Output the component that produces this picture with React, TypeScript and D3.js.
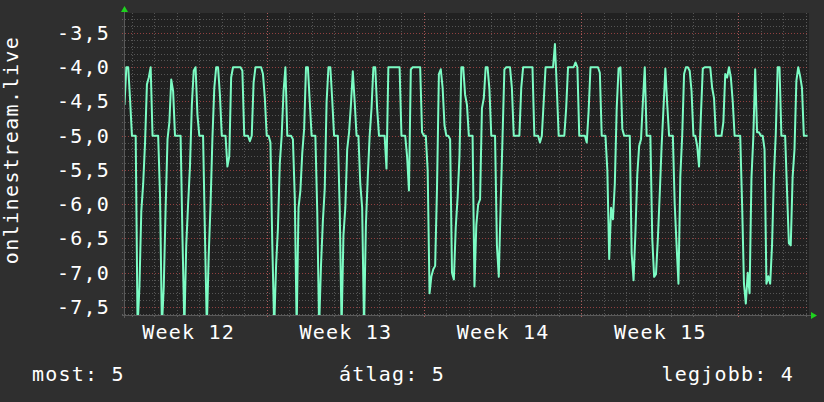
import React from 'react';
import * as d3 from 'd3';

// 2-hourly samples, first one Mon 2024-03-18 16:00 UTC
const firstSample = Date.UTC(2024, 2, 18, 16);
const stepHours = 2;

const week12 = [
  -4.55, -4.0, -4.0, -4.47,
  -5.0, -5.0, -5.0, -7.8, -7.2, -6.1, -5.7, -5.1, -4.25, -4.15, -4.0, -5.0,
  -5.0, -5.0, -5.0, -5.87, -7.8, -7.2, -6.05, -5.05, -4.8, -4.18, -4.35, -5.0,
  -5.0, -5.0, -5.0, -6.5, -7.8, -6.6, -6.0, -5.45, -4.55, -4.05, -4.0, -4.7,
  -5.0, -5.0, -5.0, -6.45, -7.8, -6.75, -6.0, -5.03, -4.3, -4.0, -4.0, -4.4,
  -5.0, -5.0, -5.0, -5.45, -5.3, -4.15, -4.0, -4.0, -4.0, -4.0, -4.0, -4.05,
  -5.0, -5.0, -5.0, -5.08, -5.0, -4.22, -4.0, -4.0, -4.0, -4.0, -4.1, -4.45,
];

const week13 = [
  -5.0, -5.0, -5.1, -6.6, -7.8, -6.9, -6.35, -5.4, -5.0, -4.35, -4.0, -5.0,
  -5.0, -5.0, -5.05, -5.9, -7.8, -6.05, -5.8, -5.25, -4.9, -4.0, -4.0, -4.5,
  -5.0, -5.0, -5.0, -6.1, -7.8, -6.9, -6.25, -5.78, -4.5, -4.0, -4.0, -4.47,
  -5.0, -5.0, -5.0, -6.05, -7.8, -6.45, -6.05, -5.2, -4.95, -4.55, -4.06, -4.5,
  -5.0, -5.0, -5.7, -6.05, -7.8, -6.3, -5.6, -5.0, -4.6, -4.0, -4.0, -4.6,
  -5.0, -5.0, -5.0, -5.0, -5.48, -4.0, -4.0, -4.0, -4.0, -4.0, -4.0, -4.0,
  -5.0, -5.0, -5.0, -5.3, -5.8, -4.03, -4.0, -4.0, -4.0, -4.0, -4.0, -4.95,
];

const week14 = [
  -5.0, -5.0, -5.5, -7.3, -7.05, -6.95, -6.9, -5.75, -4.1, -4.03, -4.3, -4.85,
  -5.0, -5.0, -5.05, -7.0, -7.1, -6.34, -5.9, -5.3, -4.0, -4.0, -4.4, -4.55,
  -5.0, -5.0, -5.0, -7.2, -6.3, -6.0, -5.93, -4.6, -4.45, -4.0, -4.0, -4.32,
  -5.0, -5.0, -5.0, -6.6, -7.06, -6.0, -5.02, -4.03, -4.0, -4.0, -4.0, -4.3,
  -5.0, -5.0, -5.0, -5.0, -4.3, -4.0, -4.0, -4.0, -4.0, -4.0, -4.0, -5.0,
  -5.0, -5.0, -5.1, -5.0, -4.5, -4.0, -4.0, -4.0, -4.0, -4.0, -3.66, -4.3,
  -5.0, -5.0, -5.0, -5.0, -4.6, -4.0, -4.0, -4.0, -4.0, -3.93, -4.0, -5.0,
];

const week15 = [
  -5.0, -5.0, -5.0, -5.1, -4.64, -4.0, -4.0, -4.0, -4.0, -4.0, -4.08, -5.0,
  -5.0, -5.0, -5.5, -6.8, -6.05, -6.22, -5.7, -4.6, -4.02, -4.0, -4.9, -5.0,
  -5.0, -5.0, -5.0, -6.72, -7.11, -6.42, -5.57, -5.15, -5.05, -4.5, -4.0, -5.0,
  -5.0, -5.0, -6.5, -7.06, -7.02, -6.5, -5.85, -5.15, -4.6, -4.02, -4.54, -5.0,
  -5.0, -5.0, -6.0, -6.6, -7.16, -5.59, -5.0, -4.1, -4.0, -4.0, -4.05, -4.35,
  -5.0, -5.0, -5.15, -5.45, -4.7, -4.02, -4.0, -4.0, -4.0, -4.0, -4.3, -4.45,
  -5.0, -5.0, -5.0, -5.0, -4.8, -4.1, -4.15, -4.0, -4.15, -4.5, -5.0, -5.0,
];

const week16 = [
  -5.0, -5.0, -6.0, -7.16, -7.45, -7.0, -7.3, -5.62, -5.02, -4.03, -4.95, -4.95,
  -5.0, -5.0, -5.2, -7.16, -7.05, -7.16, -6.6, -5.59, -4.97, -4.0, -4.0, -5.0,
  -5.0, -5.0, -5.8, -6.57, -6.6, -5.6, -5.2, -4.2, -4.0, -4.13, -4.3, -5.0,
  -5.0, -5.0,
];

const yTicks = [-3.5, -4.0, -4.5, -5.0, -5.5, -6.0, -6.5, -7.0, -7.5];
const yLabel = 'onlinestream.live';
const legendNames = ['most', 'átlag', 'legjobb'];
const legendValues = ['5', '5', '4'];

const W = 824;
const H = 402;
const left = 124;
const right = 809;
const top = 13;
const bottom = 315;

const font = '"DejaVu Sans Mono", monospace';
const lineColor = '#7cfcc4';

const fmt = d3.formatLocale({ decimal: ',', thousands: '.', grouping: [3], currency: ['', ''], minus: '-' }).format('.1f');

type Pt = { date: Date; value: number };

export default function App() {
  const values = [...week12, ...week13, ...week14, ...week15, ...week16];
  const data: Pt[] = values.map((v, i) => ({
    date: new Date(firstSample + i * stepHours * 3600e3),
    value: v,
  }));

  const x = d3.scaleUtc()
    .domain([new Date(Date.UTC(2024, 2, 18, 15, 30)), new Date(Date.UTC(2024, 3, 18, 3, 30))])
    .range([left, right]);
  const y = d3.scaleLinear().domain([-7.617, -3.208]).range([bottom, top]);

  const line = d3.line<Pt>()
    .x(d => x(d.date))
    .y(d => y(d.value));

  const [d0, d1] = x.domain();
  const days = d3.utcDay.range(d0, d1);
  const mondays = d3.utcMonday.range(d0, d1);
  const weekCenters = d3.utcMonday.range(d3.utcMonday.offset(d0, -1), d1)
    .map(m => new Date(+m + 3.5 * 864e5))
    .filter(c => c >= d0 && c <= d1);

  const minorY = d3.range(-76, -32).map(k => k / 10);

  return (
    <svg width={W} height={H} style={{ position: 'absolute', left: 0, top: 0, display: 'block' }}>
      <defs>
        <clipPath id="canvas">
          <rect x={left} y={top} width={right - left} height={bottom - top} />
        </clipPath>
      </defs>
      <rect width={W} height={H} fill="#2f2f2f" />
      <rect x={left} y={top} width={right - left} height={bottom - top} fill="#212121" />

      {/* minor grid */}
      <g stroke="#c0c0c0" strokeOpacity={0.33} strokeDasharray="1,2" strokeWidth={1}>
        {minorY.filter(v => Math.round(v * 10) % 5 !== 0).map(v => (
          <line key={v} x1={left - 2} x2={right} y1={Math.round(y(v)) + 0.5} y2={Math.round(y(v)) + 0.5} />
        ))}
        {days.map(d => (
          <line key={+d} x1={Math.round(x(d)) + 0.5} x2={Math.round(x(d)) + 0.5} y1={top} y2={bottom + 2} />
        ))}
      </g>
      {/* major grid */}
      <g stroke="#ff5f5f" strokeOpacity={0.5} strokeDasharray="1,2" strokeWidth={1}>
        {yTicks.map(v => (
          <line key={v} x1={left - 2} x2={right} y1={Math.round(y(v)) + 0.5} y2={Math.round(y(v)) + 0.5} />
        ))}
        {mondays.map(d => (
          <line key={+d} x1={Math.round(x(d)) + 0.5} x2={Math.round(x(d)) + 0.5} y1={top} y2={bottom + 2} />
        ))}
      </g>

      <path d={line(data) ?? ''} fill="none" stroke={lineColor} strokeWidth={2}
        strokeLinejoin="round" clipPath="url(#canvas)" />

      {/* axes */}
      <g stroke="#5a5a5a" strokeWidth={1}>
        <line x1={left - 2} x2={right + 3} y1={bottom + 0.5} y2={bottom + 0.5} />
        <line x1={left + 0.5} x2={left + 0.5} y1={top - 2} y2={bottom + 3} />
      </g>
      <path d={`M${left - 3},${top - 1}L${left + 4},${top - 1}L${left + 0.5},${top - 7}Z`} fill="#1ed21e" />
      <path d={`M${right + 2},${bottom - 3}L${right + 2},${bottom + 4}L${right + 8},${bottom + 0.5}Z`} fill="#1ed21e" />

      <g fill="#ffffff" fontFamily={font} fontSize={20} style={{ letterSpacing: '1.2px' }}>
        {yTicks.map(v => (
          <text key={v} x={110} y={y(v) + 7} textAnchor="end">{fmt(v)}</text>
        ))}
        {weekCenters.map(c => (
          <text key={+c} x={x(c) + 0.6} y={339} textAnchor="middle">{'Week ' + d3.utcFormat('%V')(c)}</text>
        ))}
        <text x={32} y={381}>{`${legendNames[0]}: ${legendValues[0]}`}</text>
        <text x={339} y={381}>{`${legendNames[1]}: ${legendValues[1]}`}</text>
        <text x={794} y={381} textAnchor="end">{`${legendNames[2]}: ${legendValues[2]}`}</text>
        <text transform="translate(18,150) rotate(-90)" textAnchor="middle" style={{ letterSpacing: '1.4px' }}>{yLabel}</text>
      </g>
    </svg>
  );
}
